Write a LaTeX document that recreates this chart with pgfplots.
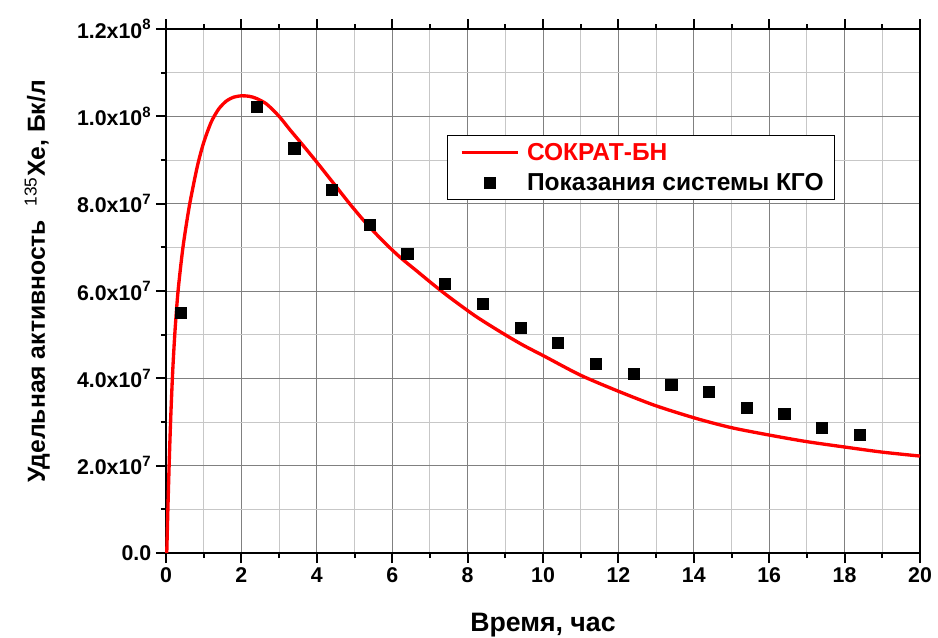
\documentclass[border=0pt]{standalone}
\usepackage{fontspec}
\setmainfont{Liberation Sans}
\usepackage{pgfplots}
\pgfplotsset{compat=1.18}
\pgfplotsset{
  lineleg/.style={legend image code/.code={\path (-3.75pt,0pt) (45.75pt,0pt); \draw[##1] (0pt,0pt) -- (42pt,0pt);}},
  markleg/.style={legend image code/.code={\path (-3.75pt,0pt) (45.75pt,0pt); \draw[mark repeat=2,mark phase=2,##1] plot coordinates {(0pt,0pt) (21pt,0pt) (42pt,0pt)};}},
}
\begin{document}
\begin{tikzpicture}
\useasboundingbox (-124.5pt,-63pt) rectangle (579pt,414.75pt);
\begin{axis}[
  at={(0pt,0pt)}, anchor=south west,
  scale only axis, width=565.5pt, height=393pt,
  xmin=0, xmax=20, ymin=0, ymax=1.2e8,
  clip=false,
  xtick={0,2,...,20},
  ytick={0,2e7,4e7,6e7,8e7,1e8,1.2e8},
  yticklabels={0.0, 2.0x10\textsuperscript{7}, 4.0x10\textsuperscript{7}, 6.0x10\textsuperscript{7}, 8.0x10\textsuperscript{7}, 1.0x10\textsuperscript{8}, 1.2x10\textsuperscript{8}},
  scaled y ticks=false,
  minor x tick num=1, minor y tick num=1,
  xtick pos=left, ytick pos=left,
  tick align=outside,
  major tick length=7.5pt, minor tick length=3.75pt,
  every tick/.append style={black, line width=1.5pt},
  axis line style={line width=1.5pt},
  grid=both,
  major grid style={black!50, line width=0.75pt},
  minor grid style={black!22, line width=0.75pt},
  /pgf/number format/assume math mode=true,
  ticklabel style={font=\bfseries\fontsize{16}{18}\selectfont},
  xlabel={Время, час},
  xlabel style={font=\bfseries\fontsize{20}{22}\selectfont, at={(axis description cs:0.5,-0.1501)}, anchor=base},
  ylabel={Удельная активность\ \ \textsuperscript{\mdseries 135}Xe, Бк/л},
  ylabel style={font=\bfseries\fontsize{18.5}{22}\selectfont, at={(axis description cs:-0.1605,0.518)}, anchor=base},
  legend style={at={(axis cs:7.45,9.57e7)}, anchor=north west, draw=black, line width=0.75pt,
    font=\bfseries\fontsize{18.4}{21}\selectfont, row sep=4.5pt, inner xsep=5.75pt, inner ysep=3.5pt},
  legend cell align=left,
]
\addplot[red, line width=2.5pt, smooth, tension=0.45, lineleg] coordinates {
(0.02,0) (0.05,1.0e7) (0.09,2.2e7) (0.13,3.2e7) (0.18,4.2e7) (0.24,5.1e7)
(0.32,6.0e7) (0.45,7.0e7) (0.62,7.95e7) (0.83,8.85e7) (1.0,9.4e7) (1.2,9.87e7)
(1.4,10.17e7) (1.6,10.35e7) (1.8,10.44e7) (2.0,10.47e7) (2.2,10.46e7) (2.4,10.41e7)
(2.67,10.28e7) (3.0,10.0e7) (3.3,9.68e7) (3.65,9.32e7) (4.0,8.95e7) (4.45,8.46e7)
(4.88,7.99e7) (5.3,7.56e7) (5.76,7.14e7)
(6.2,6.78e7) (6.65,6.46e7) (7.1,6.14e7) (7.53,5.85e7) (8.2,5.43e7)
(8.86,5.07e7) (9.45,4.77e7) (10.05,4.5e7) (11.0,4.07e7) (12.04,3.69e7) (13.0,3.37e7)
(14.07,3.08e7) (15.0,2.87e7) (16.07,2.69e7)
(17.0,2.55e7) (18.06,2.42e7) (19.0,2.31e7) (20,2.22e7)
};
\addlegendentry{\textcolor{red}{СОКРАТ-БН}}
\addplot[only marks, mark=square*, mark size=4.2pt, black, markleg] coordinates {
(0.4,5.50e7) (2.4,10.21e7) (3.4,9.27e7) (4.4,8.31e7) (5.4,7.51e7) (6.4,6.85e7)
(7.4,6.16e7) (8.4,5.70e7) (9.4,5.15e7) (10.4,4.81e7) (11.4,4.33e7) (12.4,4.10e7)
(13.4,3.85e7) (14.4,3.69e7) (15.4,3.32e7) (16.4,3.18e7) (17.4,2.86e7) (18.4,2.70e7)
};
\addlegendentry{Показания системы КГО}
\pgfplotsinvokeforeach{0,2,4,6,8,10,12,14,16,18,20}{\draw[black, line width=1.5pt] (axis cs:#1,1.2e8) -- ++(0pt,7.5pt);}
\pgfplotsinvokeforeach{1,3,5,7,9,11,13,15,17,19}{\draw[black, line width=1.5pt] (axis cs:#1,1.2e8) -- ++(0pt,3.75pt);}
\end{axis}
\end{tikzpicture}
\end{document}
